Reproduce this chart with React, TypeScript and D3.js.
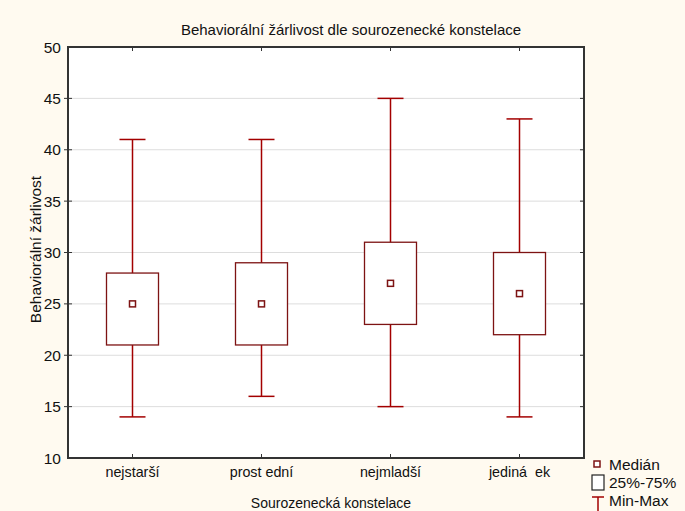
import React, { useEffect, useRef } from "react";
import * as d3 from "d3";

// Values
const categories = ["nejstarší", "prost ední", "nejmladší", "jediná  ek"];
const mins = [14, 16, 15, 14];
const q1s = [21, 21, 23, 22];
const medians = [25, 25, 27, 26];
const q3s = [28, 29, 31, 30];
const maxs = [41, 41, 45, 43];
const yTicks = [10, 15, 20, 25, 30, 35, 40, 45, 50];

const W = 685, H = 511;
const margin = { top: 47, right: 101, bottom: 53, left: 68 };
const FONT = "'Liberation Sans', Arial, sans-serif";
const WHISKER = "#a30000";
const BOX = "#7d1313";
const AXIS = "#333333";

export default function App() {
  const ref = useRef<SVGSVGElement>(null);

  useEffect(() => {
    document.body.style.margin = "0";
    const svg = d3.select(ref.current);
    svg.selectAll("*").remove();

    const width = W - margin.left - margin.right;
    const height = H - margin.top - margin.bottom;

    svg.append("rect").attr("width", W).attr("height", H).attr("fill", "#fffaf0");

    const g = svg.append("g").attr("transform", `translate(${margin.left},${margin.top})`);
    g.append("rect").attr("width", width).attr("height", height).attr("fill", "#ffffff");

    const x = d3.scaleBand().domain(categories).range([0, width]).paddingInner(0).paddingOuter(0);
    const cx = (c: string) => (x(c) as number) + x.bandwidth() / 2;
    const y = d3.scaleLinear().domain([10, 50]).range([height, 0]);

    // grid
    g.selectAll("line.grid").data(yTicks.slice(1, -1)).enter().append("line")
      .attr("x1", 0).attr("x2", width)
      .attr("y1", (d) => y(d)).attr("y2", (d) => y(d))
      .attr("stroke", "#dddddd").attr("stroke-width", 1);

    const stats = categories.map((c, i) => ({
      key: c, min: mins[i], q1: q1s[i], median: medians[i], q3: q3s[i], max: maxs[i],
    }));

    const boxW = 52, capW = 26;

    // whiskers
    g.selectAll("line.vert").data(stats).enter().append("line")
      .attr("x1", (d) => cx(d.key)).attr("x2", (d) => cx(d.key))
      .attr("y1", (d) => y(d.min)).attr("y2", (d) => y(d.max))
      .attr("stroke", WHISKER).attr("stroke-width", 1.5);
    g.selectAll("line.capMax").data(stats).enter().append("line")
      .attr("x1", (d) => cx(d.key) - capW / 2).attr("x2", (d) => cx(d.key) + capW / 2)
      .attr("y1", (d) => y(d.max)).attr("y2", (d) => y(d.max))
      .attr("stroke", WHISKER).attr("stroke-width", 1.5);
    g.selectAll("line.capMin").data(stats).enter().append("line")
      .attr("x1", (d) => cx(d.key) - capW / 2).attr("x2", (d) => cx(d.key) + capW / 2)
      .attr("y1", (d) => y(d.min)).attr("y2", (d) => y(d.min))
      .attr("stroke", WHISKER).attr("stroke-width", 1.5);

    // boxes
    g.selectAll("rect.box").data(stats).enter().append("rect")
      .attr("x", (d) => cx(d.key) - boxW / 2).attr("y", (d) => y(d.q3))
      .attr("width", boxW).attr("height", (d) => y(d.q1) - y(d.q3))
      .attr("fill", "#ffffff").attr("stroke", BOX).attr("stroke-width", 1.3);

    // medians
    g.selectAll("rect.med").data(stats).enter().append("rect")
      .attr("x", (d) => cx(d.key) - 3).attr("y", (d) => y(d.median) - 3)
      .attr("width", 6).attr("height", 6)
      .attr("fill", "#ffffff").attr("stroke", BOX).attr("stroke-width", 1.5);

    // frame
    g.append("rect").attr("width", width).attr("height", height)
      .attr("fill", "none").attr("stroke", AXIS).attr("stroke-width", 2);

    // ticks
    const tk = 4;
    yTicks.slice(1, -1).forEach((t) => {
      g.append("line").attr("x1", 0).attr("x2", tk).attr("y1", y(t)).attr("y2", y(t)).attr("stroke", AXIS);
      g.append("line").attr("x1", width - tk).attr("x2", width).attr("y1", y(t)).attr("y2", y(t)).attr("stroke", AXIS);
      g.append("line").attr("x1", -tk).attr("x2", 0).attr("y1", y(t)).attr("y2", y(t)).attr("stroke", AXIS);
    });
    categories.forEach((c) => {
      g.append("line").attr("x1", cx(c)).attr("x2", cx(c)).attr("y1", height).attr("y2", height - tk).attr("stroke", AXIS);
      g.append("line").attr("x1", cx(c)).attr("x2", cx(c)).attr("y1", 0).attr("y2", tk).attr("stroke", AXIS);
    });

    // tick labels
    g.selectAll("text.yt").data(yTicks).enter().append("text")
      .attr("x", -7).attr("y", (d) => y(d) + 5.5)
      .attr("text-anchor", "end").attr("font-family", FONT).attr("font-size", 15.5)
      .attr("fill", "#111").text((d) => d);
    g.selectAll("text.xt").data(categories).enter().append("text")
      .attr("x", (d) => cx(d)).attr("y", height + 19)
      .attr("text-anchor", "middle").attr("font-family", FONT).attr("font-size", 14.3)
      .attr("fill", "#111").style("white-space", "pre").text((d) => d);

    // titles
    svg.append("text").attr("x", 351).attr("y", 35).attr("text-anchor", "middle")
      .attr("font-family", FONT).attr("font-size", 15).attr("fill", "#111")
      .text("Behaviorální žárlivost dle sourozenecké konstelace");
    svg.append("text").attr("x", 331).attr("y", 508).attr("text-anchor", "middle")
      .attr("font-family", FONT).attr("font-size", 14).attr("fill", "#111")
      .text("Sourozenecká konstelace");
    svg.append("text")
      .attr("transform", `translate(41,${margin.top + height / 2 - 3}) rotate(-90)`)
      .attr("text-anchor", "middle").attr("font-family", FONT).attr("font-size", 15.5).attr("fill", "#111")
      .text("Behaviorální žárlivost");

    // legend
    const lg = svg.append("g");
    lg.append("rect").attr("x", 594).attr("y", 461).attr("width", 6).attr("height", 6)
      .attr("fill", "#fff").attr("stroke", BOX).attr("stroke-width", 1.5);
    lg.append("rect").attr("x", 592).attr("y", 475).attr("width", 12).attr("height", 15)
      .attr("fill", "#fff").attr("stroke", "#222").attr("stroke-width", 1.2);
    lg.append("line").attr("x1", 598).attr("x2", 598).attr("y1", 497).attr("y2", 511)
      .attr("stroke", WHISKER).attr("stroke-width", 1.5);
    lg.append("line").attr("x1", 592).attr("x2", 604).attr("y1", 497).attr("y2", 497)
      .attr("stroke", WHISKER).attr("stroke-width", 1.5);
    [["Medián", 470], ["25%-75%", 488], ["Min-Max", 506]].forEach(([t, yy]) => {
      lg.append("text").attr("x", 609).attr("y", yy as number).attr("font-family", FONT)
        .attr("font-size", 15.5).attr("fill", "#111").text(t as string);
    });
  }, []);

  return <svg ref={ref} width={W} height={H} style={{ display: "block" }} />;
}
